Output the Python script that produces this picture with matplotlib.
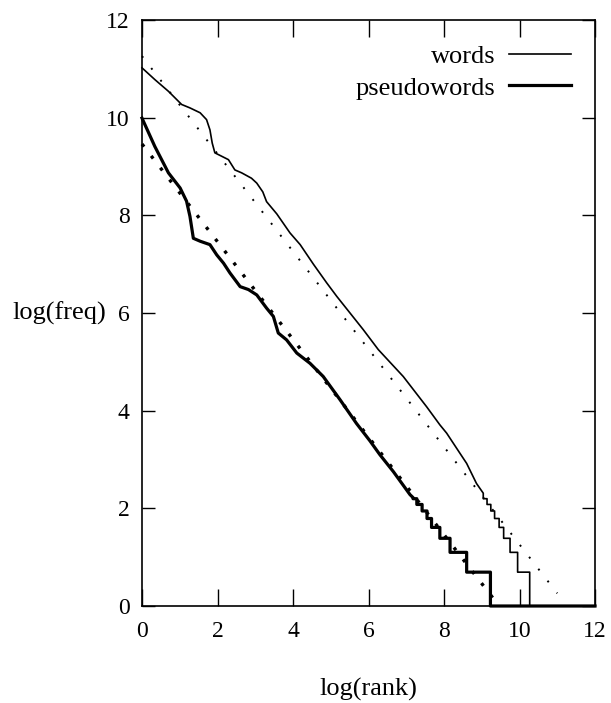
import numpy as np
import matplotlib
matplotlib.use("Agg")
import matplotlib.pyplot as plt

plt.rcParams['font.family'] = ['Liberation Serif', 'DejaVu Serif']

# Rank/frequency curves (natural log), smooth head part
words_head_x = [0, 0.34, 0.70, 1.05, 1.27, 1.54, 1.71, 1.80, 1.86, 1.93, 2.11, 2.29,
                2.46, 2.64, 2.90, 3.04, 3.20, 3.30, 3.57, 3.92, 4.19, 4.54, 4.89,
                5.16, 5.51, 5.86, 6.26, 6.92, 7.54, 7.89, 8.07, 8.42, 8.60, 8.86, 9.04]
words_head_y = [11.02, 10.78, 10.54, 10.27, 10.20, 10.10, 9.96, 9.75, 9.48, 9.28, 9.21,
                9.14, 8.93, 8.87, 8.76, 8.66, 8.48, 8.28, 8.03, 7.64, 7.40, 7.00, 6.62,
                6.34, 6.00, 5.66, 5.25, 4.70, 4.08, 3.71, 3.54, 3.13, 2.92, 2.51, 2.31]
# Low-frequency tail: raw counts and the log(rank) where each count ends
words_tail_freq = [9, 8, 7, 6, 5, 4, 3, 2, 1]
words_tail_end = [9.14, 9.24, 9.34, 9.46, 9.58, 9.75, 9.95, 10.27, 11.5]

pseudo_head_x = [0, 0.34, 0.70, 1.01, 1.18, 1.27, 1.36, 1.54, 1.80, 1.98, 2.16, 2.33,
                 2.60, 2.82, 3.04, 3.30, 3.48, 3.61, 3.83, 4.10, 4.45, 4.80, 5.25,
                 5.68, 6.04, 6.30, 6.66, 7.10, 7.18]
pseudo_head_y = [9.99, 9.41, 8.87, 8.56, 8.29, 7.98, 7.53, 7.47, 7.40, 7.19, 7.02, 6.82,
                 6.54, 6.48, 6.37, 6.10, 5.93, 5.59, 5.45, 5.18, 4.97, 4.70, 4.22,
                 3.74, 3.38, 3.10, 2.75, 2.28, 2.22]
pseudo_tail_freq = [9, 8, 7, 6, 5, 4, 3, 2, 1]
pseudo_tail_end = [7.28, 7.42, 7.55, 7.67, 7.89, 8.16, 8.60, 9.23, 12.0]

# Zipf fits (log-log straight lines)
words_fit_x = [0, 11.0]
words_fit_y = [11.26, 0.26]
pseudo_fit_x = [0, 9.3]
pseudo_fit_y = [9.46, 0.16]

ticks = [0, 2, 4, 6, 8, 10, 12]


def staircase(hx, hy, freqs, ends):
    xs, ys = list(hx), list(hy)
    for f, e in zip(freqs, ends):
        lv = float(np.log(f))
        xs += [xs[-1], e]
        ys += [lv, lv]
    return xs, ys


fig = plt.figure(figsize=(6.11, 7.03), dpi=100)
W, H = 611, 703
x0, x1, yb, yt = 142, 595, 606, 20
ax = fig.add_axes([x0 / W, (H - yb) / H, (x1 - x0) / W, (yb - yt) / H])

wx, wy = staircase(words_head_x, words_head_y, words_tail_freq, words_tail_end)
px, py = staircase(pseudo_head_x, pseudo_head_y, pseudo_tail_freq, pseudo_tail_end)

ax.plot(words_fit_x, words_fit_y, color='black', lw=1.4,
        linestyle=(0, (1, 6.75)), clip_on=False)
ax.plot(pseudo_fit_x, pseudo_fit_y, color='black', lw=2.4,
        linestyle=(0, (1, 3.5)), clip_on=False)
ax.plot(wx, wy, color='black', lw=1.2, label='words', clip_on=False)
ax.plot(px, py, color='black', lw=2.3, label='pseudowords', clip_on=False)

ax.set_xlim(0, 12)
ax.set_ylim(0, 12)
ax.set_xticks(ticks)
ax.set_yticks(ticks)
ax.tick_params(axis='both', direction='in', top=True, right=True,
               labelsize=17, width=1.0, colors='black')
ax.tick_params(axis='x', length=12, pad=11)
ax.tick_params(axis='y', length=9.5, pad=9)
for s in ax.spines.values():
    s.set_linewidth(1.2)

ax.set_xlabel('log(rank)', fontsize=19, labelpad=26)
ax.set_ylabel('log(freq)', fontsize=19, rotation=0, ha='right', va='center')
ax.yaxis.set_label_coords(-0.078, 0.5)

ax.legend(loc='upper right', frameon=False, markerfirst=False, fontsize=19,
          handlelength=2.35, handletextpad=0.5, labelspacing=0.32,
          borderaxespad=0.62, borderpad=0.3)

fig.savefig('out.png', dpi=100)
